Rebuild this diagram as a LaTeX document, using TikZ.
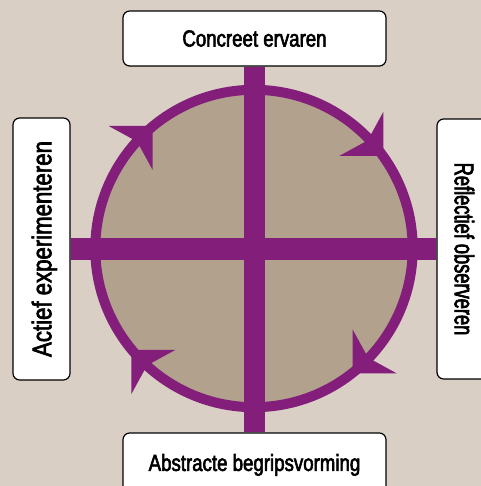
\documentclass[tikz,border=0pt]{standalone}
\usepackage{fontspec}
\setmainfont{Liberation Sans}[FakeStretch=0.8,FakeBold=2.5]
\newfontfamily\widefont{Liberation Sans}[FakeStretch=0.82,FakeBold=2.5]
\newfontfamily\narrowfont{Liberation Sans}[FakeStretch=0.675,FakeBold=2.5]
\usetikzlibrary{calc}
\definecolor{bgbeige}{RGB}{217,207,197}
\definecolor{discfill}{RGB}{177,161,141}
\definecolor{cyclepurple}{RGB}{131,31,122}
\begin{document}
\begin{tikzpicture}[x=0.75pt,y=0.75pt,
    stage/.style={draw=black,fill=white,rounded corners=5pt,line width=0.9pt,inner sep=0pt,
        font=\fontsize{17.5}{20}\selectfont},
    sidestage/.style={stage,font=\fontsize{20.3}{24}\selectfont,text depth=0pt},
    crossbar/.style={draw=cyclepurple}]
    \useasboundingbox (0,0) rectangle (481,486);
    \fill[bgbeige] (0,0) rectangle (481,486);
    \coordinate (c) at (254,237.5);
    \draw[cyclepurple,fill=discfill,line width=7.5pt] (c) circle (158.7);
    % the four stages
    \node[stage,minimum width=197.25pt,minimum height=41.25pt] at (254.5,447.5) (ce) {Concreet ervaren};
    \node[sidestage,rotate=-90,minimum width=195pt,minimum height=41.25pt] at (464.5,237) (ro) {\narrowfont Reflectief observeren};
    \node[stage,minimum width=197.25pt,minimum height=44.25pt,text depth=0pt] at (254.5,23.5) (ab) {Abstracte begripsvorming};
    \node[sidestage,rotate=90,minimum width=196.5pt,minimum height=42.75pt] at (41.5,237) (ae) {\widefont Actief experimenteren};
    \draw[crossbar,line width=15.5pt] (ce.south)--(ab.north);
    \draw[crossbar,line width=16.2pt] (ae.south)--(ro.south);
    % arrow heads on the ring
    \foreach \a/\d in {129.6/45, 35.6/-45, -51.7/-135, -140.4/135} {
        \coordinate (t) at ($(c)+(\a:159)$);
        \fill[cyclepurple] (t) -- ($(t)+(\d+135:44)$) -- ($(t)+(\d+180:22)$) -- ($(t)+(\d-135:44)$) -- cycle;
    }
\end{tikzpicture}
\end{document}
